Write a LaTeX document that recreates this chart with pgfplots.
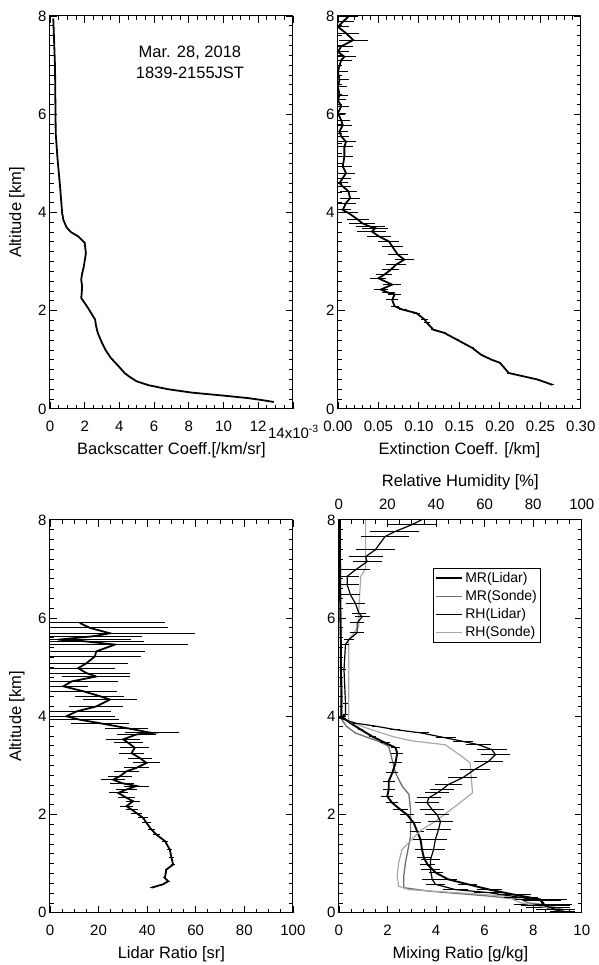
\documentclass[border=0pt]{standalone}
\usepackage{fontspec}
\setmainfont{Liberation Sans}
\usepackage{pgfplots}
\pgfplotsset{compat=1.18}
\definecolor{mrsonde}{HTML}{6E6E6E}
\definecolor{rhsonde}{HTML}{A8A8A8}

\pgfplotsset{
  panel/.style={
    scale only axis, width=243pt, height=393pt, anchor=south west,
    ymin=0, ymax=8, ytick={0,2,...,8}, minor y tick num=9,
    tick align=inside, major tick length=7pt, minor tick length=4pt,
    axis line style={line width=1pt},
    every tick/.style={black, line width=0.8pt},
    tick label style={font=\fontsize{15}{17}\selectfont},
    label style={font=\fontsize{16.5}{19}\selectfont},
    /pgf/number format/assume math mode=true,
    xlabel style={at={(axis description cs:0.5,-0.105)}, anchor=center},
    ylabel style={at={(axis description cs:-0.136,0.5)}, anchor=center},
  },
  lowticks/.style={xticklabel style={anchor=base, yshift=-23pt}},
  prof/.style={black, line width=1.8pt, no marks},
  errs/.style={error bars/.cd, x dir=both, x explicit, error mark=none,
    error bar style={black, line width=1pt}, /pgfplots/.cd},
}

\begin{document}
\begin{tikzpicture}
\path (0pt,0pt) rectangle (598pt,965pt);

% backscatter
\begin{axis}[panel, lowticks, at={(50pt,556pt)},
  xmin=0, xmax=14, xtick={0,2,...,14}, minor x tick num=3,
  xticklabels={0,2,4,6,8,10,12,{}},
  xlabel={Backscatter Coeff.[/km/sr]}, ylabel={Altitude [km]}]
\addplot[prof] table[x=x, y=y] {
y x
0.14 12.9
0.18 12.2
0.22 11.4
0.27 10.0
0.33 8.2
0.40 6.8
0.48 5.7
0.56 5.0
0.65 4.6
0.73 4.3
0.87 3.95
1.04 3.5
1.20 3.2
1.34 3.0
1.55 2.75
1.70 2.65
1.82 2.6
2.05 2.2
2.26 1.8
2.36 1.83
2.50 1.85
2.63 1.8
2.75 1.85
2.90 1.95
3.17 2.07
3.38 2.0
3.51 1.64
3.60 1.2
3.70 0.95
3.85 0.77
3.99 0.7
4.53 0.58
5.07 0.44
5.61 0.33
6.97 0.29
7.95 0.19
};
\end{axis}
\node[anchor=west, inner sep=0pt, font=\fontsize{15}{17}\selectfont] at (268pt,533pt) {14x10\textsuperscript{-3}};
\node[align=center, font=\fontsize{16.5}{21}\selectfont] at (190pt,903pt) {Mar. 28, 2018\\1839-2155JST};

% extinction
\begin{axis}[panel, lowticks, at={(338pt,556pt)},
  xmin=0, xmax=0.30, xtick={0,0.05,...,0.30}, minor x tick num=4,
  xticklabel style={/pgf/number format/.cd, fixed, fixed zerofill, precision=2},
  xlabel={Extinction Coeff. [/km]}]
\addplot[prof, errs] table[x=x, y=y, x error=e] {
y x e
0.49 0.265 0.002
0.60 0.246 0.002
0.73 0.211 0.002
0.94 0.200 0.002
1.00 0.190 0.002
1.10 0.177 0.002
1.24 0.166 0.002
1.41 0.147 0.003
1.55 0.131 0.003
1.61 0.118 0.003
1.75 0.110 0.004
1.82 0.107 0.004
1.95 0.097 0.004
2.02 0.080 0.005
2.09 0.070 0.005
2.22 0.067 0.007
2.33 0.070 0.008
2.36 0.063 0.008
2.43 0.053 0.009
2.53 0.067 0.011
2.66 0.050 0.010
2.73 0.057 0.010
2.83 0.065 0.011
2.94 0.072 0.012
3.04 0.082 0.012
3.14 0.074 0.012
3.31 0.067 0.013
3.41 0.063 0.013
3.51 0.051 0.015
3.61 0.042 0.018
3.68 0.046 0.016
3.71 0.040 0.018
3.78 0.030 0.016
3.85 0.025 0.014
3.99 0.013 0.012
4.05 0.006 0.010
4.19 0.010 0.012
4.29 0.015 0.012
4.43 0.013 0.010
4.53 0.006 0.010
4.60 0.002 0.010
4.70 0.006 0.010
4.80 0.010 0.011
4.94 0.006 0.011
5.14 0.008 0.011
5.34 0.008 0.011
5.44 0.010 0.012
5.55 0.004 0.010
5.65 0.002 0.010
5.78 0.006 0.012
5.88 0.004 0.011
6.02 0.000 0.010
6.16 0.004 0.010
6.29 0.000 0.010
6.39 0.002 0.010
6.56 0.000 0.011
6.70 0.002 0.012
6.87 0.000 0.013
7.10 0.004 0.014
7.17 0.008 0.014
7.27 0.000 0.014
7.38 0.004 0.015
7.51 0.019 0.018
7.65 0.010 0.016
7.78 0.000 0.014
7.88 0.006 0.014
7.99 0.013 0.012
};
\end{axis}

% lidar ratio
\begin{axis}[panel, lowticks, at={(50pt,52pt)},
  xmin=0, xmax=100, xtick={0,20,...,100}, minor x tick num=3,
  xlabel={Lidar Ratio [sr]}, ylabel={Altitude [km]}]
\addplot[prof, errs] table[x=x, y=y, x error=e] {
y x e
0.51 41.8 0.5
0.58 46.6 0.5
0.64 48.6 0.6
0.71 47.3 0.6
0.88 47.9 0.7
0.98 50.7 0.8
1.12 50.0 0.9
1.29 49.3 1.0
1.46 47.3 1.2
1.59 43.8 1.3
1.69 41.8 1.5
1.83 39.7 1.7
1.93 38.4 2.0
2.03 35.6 2.2
2.10 33.6 2.5
2.17 31.5 2.8
2.27 34.2 3.0
2.34 31.5 3.5
2.44 28.1 4.0
2.51 31.5 4.5
2.58 35.6 5.0
2.64 29.5 5.0
2.71 26.0 5.0
2.78 28.8 5.0
2.88 31.5 5.0
2.95 35.6 5.0
3.05 39.7 5.5
3.15 37.0 5.0
3.25 33.6 5.0
3.36 34.9 6.0
3.46 32.2 6.0
3.53 30.1 7.0
3.63 35.6 8.0
3.66 42.0 11
3.76 31.5 9
3.86 20.5 12
3.93 12.3 16
4.00 6.8 20
4.10 11.0 14
4.20 19.0 11
4.34 24.7 11
4.41 20.5 10
4.51 13.7 14
4.61 5.5 10
4.71 8.9 19
4.81 19.0 14
4.88 15.0 18
4.98 11.6 15
5.08 15.0 17
5.22 18.5 19
5.32 19.0 20
5.46 26.7 30
5.53 13.7 25
5.56 3.4 30
5.63 17.8 20
5.69 24.7 35
5.80 16.4 32
5.90 12.3 35
};
\end{axis}

% mixing ratio
\begin{axis}[panel, lowticks, at={(339pt,52pt)},
  xmin=0, xmax=10, xtick={0,2,...,10}, minor x tick num=3, xtick pos=bottom,
  xlabel={Mixing Ratio [g/kg]}]
\addplot[mrsonde, line width=1.3pt] table[x=x, y=y] {
y x
0.00 9.3
0.07 9.2
0.17 8.36
0.20 7.8
0.27 7.5
0.34 6.16
0.44 3.7
0.51 2.67
0.75 2.67
1.02 2.74
1.56 2.95
2.10 2.95
2.41 2.88
2.58 2.6
2.85 2.33
3.12 2.19
3.39 2.05
3.49 1.64
3.56 1.23
3.66 0.68
3.80 0.3
3.95 0.1
4.50 0.12
5.00 0.1
6.00 0.08
7.00 0.06
8.00 0.05
};
\addplot[prof, line width=1.9pt, errs] table[x=x, y=y, x error=e] {
y x e
0.03 9.2 0.5
0.10 8.6 0.9
0.17 8.4 1.2
0.27 8.3 1.1
0.37 7.2 0.7
0.47 6.2 0.5
0.58 5.3 0.4
0.68 4.5 0.35
0.81 4.0 0.3
0.98 3.65 0.3
1.12 3.5 0.3
1.29 3.42 0.3
1.49 3.36 0.3
1.66 3.22 0.3
1.83 3.08 0.3
2.00 2.8 0.3
2.10 2.53 0.3
2.24 2.19 0.25
2.37 1.99 0.25
2.51 2.05 0.25
2.68 2.05 0.25
2.85 2.2 0.25
3.05 2.33 0.25
3.25 2.4 0.25
3.36 2.33 0.2
3.46 1.9 0.2
3.59 1.37 0.15
3.73 0.9 0.1
3.86 0.48 0.05
4.00 0.1 0.03
4.50 0.1 0.03
5.00 0.08 0.03
5.50 0.08 0.03
6.00 0.06 0.03
6.50 0.05 0.03
7.00 0.05 0.03
7.50 0.04 0.03
8.00 0.04 0.03
};
\end{axis}

% relative humidity (top axis)
\begin{axis}[panel, at={(339pt,52pt)},
  xmin=0, xmax=100, xtick={0,20,...,100}, minor x tick num=3,
  axis x line*=top, axis y line=none,
  xticklabel style={anchor=base, yshift=10pt},
  xlabel={Relative Humidity [\%]},
  xlabel style={at={(axis description cs:0.5,1.097)}, anchor=center},
  legend cell align=left,
  legend image code/.code={\draw[#1] (0pt,0pt) -- (26pt,0pt);},
  legend style={at={(0.387,0.878)}, anchor=north west, draw=black, line width=1pt,
    font=\fontsize{14}{16}\selectfont, inner sep=2pt, row sep=2.5pt}]
\addlegendimage{black, line width=1.9pt}
\addlegendentry{MR(Lidar)}
\addlegendimage{mrsonde, line width=1.3pt}
\addlegendentry{MR(Sonde)}
\addlegendimage{black, line width=1.2pt}
\addlegendentry{RH(Lidar)}
\addlegendimage{rhsonde, line width=1.2pt}
\addlegendentry{RH(Sonde)}
\addplot[rhsonde, line width=1.2pt, forget plot] table[x=x, y=y] {
y x
0.03 92
0.07 89
0.14 82
0.20 75
0.34 68.5
0.41 48
0.47 28.8
0.54 24.6
0.75 24
1.02 24.6
1.29 26
1.49 30
1.69 34
1.86 39.7
2.17 48
2.44 55
3.05 54
3.18 50.7
3.42 43.8
3.50 30
3.56 24.6
3.59 22
3.75 12
3.90 4
4.00 4.1
4.27 4
4.95 4.1
5.56 4
5.83 8.2
6.17 8.2
6.85 9
7.00 11
7.86 11
8.00 11
};
\addplot[black, line width=1.2pt, no marks, forget plot, errs] table[x=x, y=y, x error=e] {
y x e
0.01 93 6
0.07 89 8
0.14 85 10
0.24 83.6 8
0.31 75 7
0.41 61.6 6
0.47 48 5
0.58 39.7 4
0.68 38.4 4
0.88 37.7 4
1.08 37.7 4
1.29 39 4.5
1.49 39.7 5
1.69 41 5
1.86 41.8 5
2.00 40.4 5
2.10 38.4 5
2.24 36.3 5
2.34 37 5
2.44 40.4 5
2.51 42.5 5
2.61 45 5.5
2.75 51 6
2.92 56 6
3.08 61.6 6
3.22 64.4 6
3.32 63 6
3.42 57.5 5
3.49 51 4
3.56 44 4
3.66 34 3
3.73 23 2
3.80 15 1.5
3.86 6.8 1
3.97 0 0.5
4.03 2.7 1
4.27 2.7 1
4.95 2.1 1
5.46 2.7 1.5
5.56 4.1 2
5.70 7.5 3
5.90 7.5 3
6.03 9.6 3
6.10 8.2 3
6.30 6.8 4
6.47 4.8 4
6.68 3.4 5
6.85 3.4 5
6.98 6.8 6
7.15 11.6 6
7.25 11 7
7.39 15 8
7.66 19 10
7.76 23 10
7.90 30 10
8.00 34 12
};
\end{axis}
\end{tikzpicture}
\end{document}
